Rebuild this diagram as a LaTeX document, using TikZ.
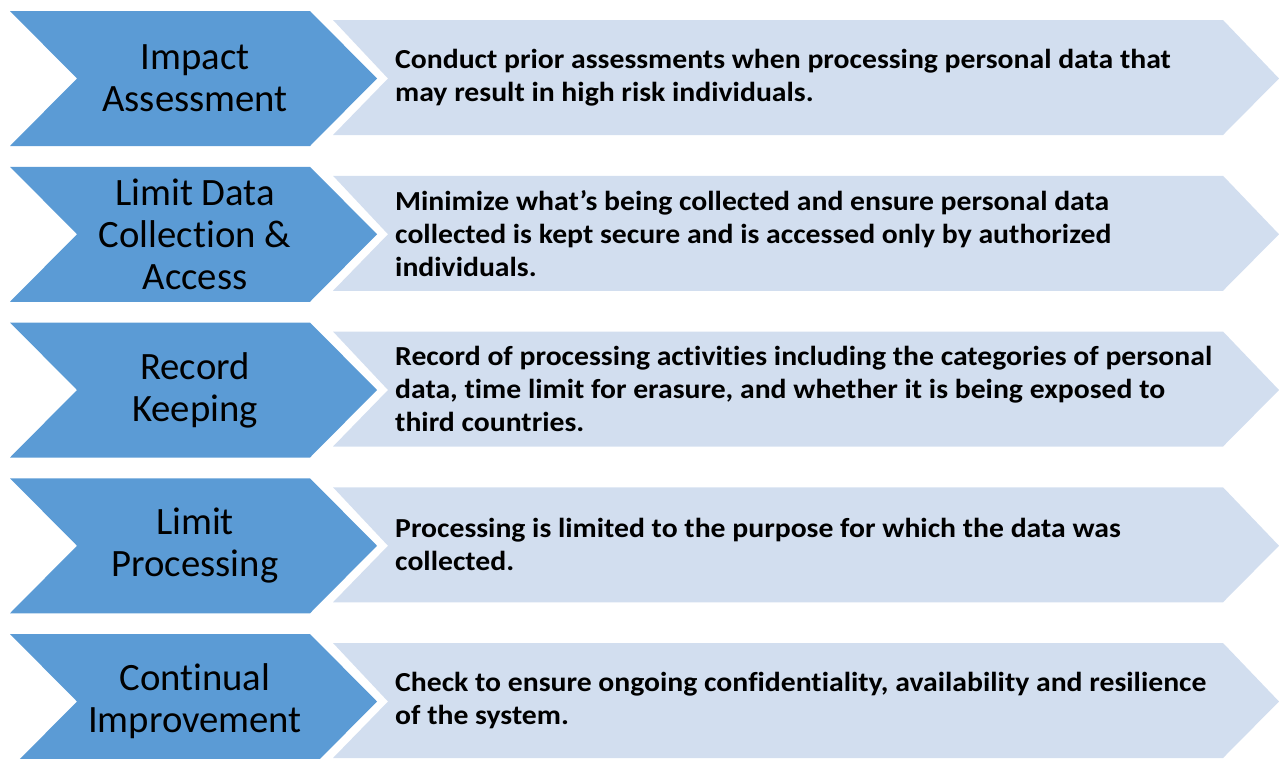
\documentclass[tikz,border=0pt]{standalone}
\usepackage{fontspec}
\setmainfont{Carlito}[Ligatures=NoCommon]
\newfontfamily\descfont{Carlito}[Ligatures=NoCommon,FakeStretch=1.08]
\definecolor{chevblue}{HTML}{5B9BD5}
\definecolor{chevlight}{HTML}{D2DEEF}
\tikzset{
  bluechev/.style={fill=chevblue, draw=none},
  lightchev/.style={fill=chevlight, draw=none},
  titletext/.style={align=center, inner sep=0pt, text=black, font=\fontsize{38.7}{42}\selectfont},
  desctext/.style={align=left, anchor=west, inner sep=0pt, text=black, font=\descfont\fontsize{27.5}{33}\selectfont\bfseries},
}
\newcommand\gdprrow[4]{%
  \pgfmathsetmacro\rt{11+155.75*#1}%
  \pgfmathsetmacro\rc{\rt+67.5}%
  \pgfmathsetmacro\rb{\rt+135}%
  \fill[bluechev] (10,\rt) -- (310,\rt) -- (377,\rc) -- (310,\rb) -- (10,\rb) -- (77,\rc) -- cycle;
  \fill[lightchev] (333,{\rt+9}) -- (1223,{\rt+9}) -- (1279,\rc) -- (1223,{\rb-11}) -- (333,{\rb-11}) -- (388,\rc) -- cycle;
  \node[titletext] (#2title) at (195,\rc) {#3};
  \node[desctext] (#2desc) at (395,{\rc-1}) {#4};
}
\begin{document}
\begin{tikzpicture}[x=1pt,y=-1pt]
  \useasboundingbox (0,0) rectangle (1279,758);
  \begin{scope}
  \clip (0,0) rectangle (1279,758);
  \gdprrow{0}{impact}{Impact\\Assessment}{Conduct prior assessments when processing personal data that\\may result in high risk individuals.}
  \gdprrow{1}{limitdata}{Limit Data\\Collection \&\\Access}{Minimize what’s being collected and ensure personal data\\collected is kept secure and is accessed only by authorized\\individuals.}
  \gdprrow{2}{record}{Record\\Keeping}{Record of processing activities including the categories of personal\\data, time limit for erasure, and whether it is being exposed to\\third countries.}
  \gdprrow{3}{limitproc}{Limit\\Processing}{Processing is limited to the purpose for which the data was\\collected.}
  \gdprrow{4}{continual}{Continual\\Improvement}{Check to ensure ongoing confidentiality, availability and resilience\\of the system.}
  \end{scope}
\end{tikzpicture}
\end{document}
